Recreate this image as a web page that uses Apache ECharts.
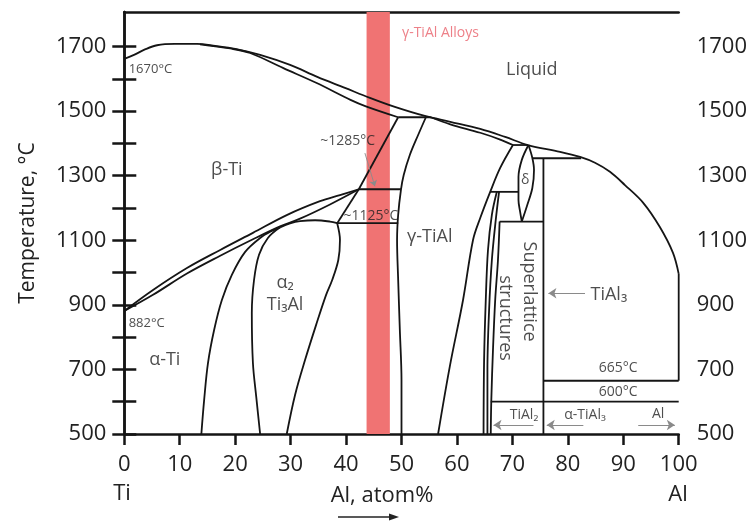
<!DOCTYPE html>
<html><head><meta charset="utf-8">
<script src="https://cdn.jsdelivr.net/npm/echarts@6/dist/echarts.min.js"></script>
<style>html,body{margin:0;padding:0;background:#fff}#c{width:755px;height:522px}</style>
</head><body><div id="c"></div>
<script>
// ---- axis values ----
const xLabelValues = [0,10,20,30,40,50,60,70,80,90,100];
const yTickValues = [500,600,700,800,900,1000,1100,1200,1300,1400,1500,1600,1700];
const yLabelValues = [500,700,900,1100,1300,1500,1700];
const alloyBand = [43.7,47.9];

// ---- phase boundaries [at% Al, °C] ----
const liquidus = [[0,1662],[1.75,1674],[3.73,1691],[5.9,1704],[9.1,1708],[13.1,1708],[16.4,1702],[20,1693],[24.5,1674],[29.9,1643],[34.8,1606],[39.8,1572],[44.3,1541],[48.8,1513],[54.2,1485],[58.8,1467],[64.2,1445],[68.7,1420],[72.8,1395],[78.6,1374],[82.2,1358],[84.9,1340],[87.6,1312],[90.3,1271],[93.6,1216],[96.6,1141],[98.97,1061],[100,996]];
const liquidusDrop = [[100,996],[100,665]];
const betaSolidus = [[13.65,1707],[19.1,1694],[22.7,1680],[28.7,1633],[34.7,1587],[40.8,1535],[43.7,1514],[49.4,1481]];
const peritectic1481 = [[49.4,1481],[55.3,1481]];
const gammaSolidus = [[55.3,1481],[58.8,1459],[64.2,1433],[67.8,1412],[70.1,1395]];
const deltaTop = [[70.1,1395],[72.8,1395]];
const gammaLeft = [[54.4,1481],[53.0,1426],[51.5,1364],[50.4,1302],[49.9,1256],[49.4,1179],[49.2,1101],[49.4,977],[49.7,822],[50.0,667],[50.0,500]];
const alphaPeritectic = [[49.4,1481],[42.3,1258]];
const line1258 = [[42.3,1258],[49.9,1258]];
const eutectoidDiag = [[42.3,1258],[38.4,1153]];
const line1153 = [[38.4,1153],[49.4,1153]];
const betaUpper = [[0,881],[5.18,946],[11.3,1014],[17.3,1070],[23.2,1123],[29.3,1178],[35.3,1221],[38.9,1240],[42.3,1258]];
const betaLower = [[0,881],[5.18,931],[11.3,997],[17.3,1052],[23.2,1103],[28.1,1143],[31.7,1167],[37.1,1211],[42.3,1258]];
const alphaLeft = [[13.9,500],[14.4,605],[15.1,720],[16.2,822],[17.6,915],[19.4,993],[21.8,1064],[24.5,1107],[26.6,1129],[28.1,1140]];
const alpha2Left = [[28.1,1140],[25.9,1107],[24.3,1055],[23.4,977],[23.0,875],[23.2,720],[23.8,615],[24.5,500]];
const alpha2Top = [[28.1,1140],[29.9,1152],[31.7,1159],[34.4,1162],[37.1,1158],[38.4,1153]];
const alpha2Right = [[38.4,1153],[38.9,1101],[38.6,1039],[37.5,977],[36.4,931],[34.6,838],[32.6,729],[30.8,621],[29.3,500]];
const gammaRight = [[70.1,1395],[67.8,1324],[66.0,1250],[64.2,1169],[62.9,1101],[61.1,915],[58.7,708],[56.6,500]];
const line1250 = [[66.0,1250],[71.1,1250]];
const deltaLeft = [[72.9,1395],[71.7,1349],[71.1,1296],[71.1,1225],[71.4,1188],[71.7,1158]];
const deltaRight = [[72.9,1395],[73.6,1355],[73.9,1318],[73.6,1262],[72.7,1210],[71.7,1158]];
const line1354 = [[73.6,1354],[82.4,1354]];
const tial3Line = [[75.6,1354],[75.6,500]];
const boxTop = [[67.7,1158],[75.6,1158]];
const superCurve1 = [[67.2,1250],[66.3,1179],[65.6,1070],[65.2,915],[64.9,729],[64.8,500]];
const superCurve2 = [[67.6,1250],[67.0,1163],[66.3,1039],[65.8,884],[65.5,698],[65.5,500]];
const superCurve3 = [[67.7,1158],[67.4,1039],[66.9,915],[66.5,760],[66.2,605],[66.1,500]];
const line665 = [[75.6,665],[100,665]];
const line600 = [[66.1,600],[100,600]];

const smoothLines = [liquidus,betaSolidus,gammaSolidus,gammaLeft,betaUpper,betaLower,alphaLeft,alpha2Left,alpha2Top,alpha2Right,gammaRight,deltaLeft,deltaRight,superCurve1,superCurve2,superCurve3];
const straightLines = [liquidusDrop,peritectic1481,deltaTop,alphaPeritectic,line1258,eutectoidDiag,line1153,line1250,line1354,tial3Line,boxTop,line665,line600];

// ---- annotations [text, at% Al, °C] ----
const labelsLarge = [['Liquid',73.5,1628],['β-Ti',18.5,1318],['α-Ti',7.3,729],['γ-TiAl',55.1,1111],['α₂',29.0,967],['Ti₃Al',29.0,900]];
const labelsSmall = [['~1285°C',40.3,1406],['~1125°C',44.5,1175],['665°C',89.1,704],['600°C',89.1,631],['TiAl₂',72.1,559],['α-TiAl₃',83.1,559],['Al',96.3,562],['δ',72.3,1287]];
const labelsLeftSmall = [['1670°C',0.7,1628],['882°C',0.7,843]];
const labelsLeftLarge = [['TiAl₃',84.0,931]];
const labelsRotated = [['Superlattice',73.0,941],['structures',68.7,859]];
const alloyLabel = [['γ-TiAl Alloys',50.0,1741]];
const arrows = [[[83.1,936],[76.5,936]],[[73.8,528],[66.6,528]],[[82.8,528],[76.2,528]],[[92.7,528],[99.3,528]]];
const pointer = [[43.4,1370],[45.2,1267]];

const FONT = "'Open Sans','Noto Sans',sans-serif";
const INK = '#151515';
const chart = echarts.init(document.getElementById('c'), null, {renderer:'canvas'});

function lineSeries(d, smooth){
  return {type:'line', data:d, symbol:'none', smooth: smooth ? 0.35 : false, animation:false, silent:true,
    lineStyle:{color:INK, width:1.8}, z:3};
}
function labelSeries(arr, lab){
  return {type:'scatter', symbolSize:1, itemStyle:{color:'rgba(0,0,0,0)'}, silent:true, animation:false, z:5,
    data: arr.map(a=>({value:[a[1],a[2]], name:a[0]})),
    label: Object.assign({show:true, formatter:p=>p.name, fontFamily:FONT, color:'#222'}, lab)};
}
function arrowSeries(list, size, width){
  return {type:'line', data:[], silent:true, animation:false, z:4, color:'#8a8a8a',
    markLine:{silent:true, symbol:['none','arrow'], symbolSize:size, label:{show:false}, animation:false,
      itemStyle:{color:'#8a8a8a'},
      lineStyle:{color:'#8a8a8a', width:width, type:'solid'},
      data: list.map(a=>[{coord:a[0]},{coord:a[1]}])}};
}

const series = [];
series.push({type:'line', data:[], silent:true, animation:false, z:1,
  markArea:{silent:true, itemStyle:{color:'#f07373'}, data:[[{xAxis:alloyBand[0]},{xAxis:alloyBand[1]}]]}});
smoothLines.forEach(d=>series.push(lineSeries(d,true)));
straightLines.forEach(d=>series.push(lineSeries(d,false)));
series.push(arrowSeries(arrows, 8, 1.2));
series.push(arrowSeries([pointer], 6, 0.9));
series.push(labelSeries(labelsLarge, {position:'inside', fontSize:18}));
series.push(labelSeries(labelsSmall, {position:'inside', fontSize:14}));
series.push(labelSeries(labelsLeftSmall, {position:'right', distance:0, fontSize:13}));
series.push(labelSeries(labelsLeftLarge, {position:'right', distance:0, fontSize:18}));
series.push(labelSeries(labelsRotated, {position:'inside', fontSize:18, rotate:-90}));
series.push(labelSeries(alloyLabel, {position:'right', distance:0, fontSize:14, color:'#e8606a'}));

const axisLineStyle = {color:INK, width:2.5};
const plain = v => String(v);
chart.setOption({
  animation:false,
  grid:{left:124.3, right:76.3, top:12, bottom:88, containLabel:false},
  xAxis:[
    {type:'value', min:0, max:100, interval:10, position:'bottom',
      axisLine:{show:true, lineStyle:axisLineStyle}, axisTick:{show:true, length:11, lineStyle:axisLineStyle},
      axisLabel:{fontSize:22, color:'#222', margin:20, fontFamily:FONT, formatter:plain, customValues:xLabelValues}, splitLine:{show:false}},
    {type:'value', min:0, max:100, position:'top',
      axisLine:{show:true, lineStyle:axisLineStyle}, axisTick:{show:false}, axisLabel:{show:false}, splitLine:{show:false}}
  ],
  yAxis:[
    {type:'value', min:500, max:1807, interval:100, position:'left',
      name:'Temperature, °C', nameLocation:'middle', nameGap:86,
      nameTextStyle:{fontSize:21, color:'#222', fontFamily:FONT},
      axisLine:{show:true, lineStyle:axisLineStyle},
      axisTick:{show:true, length:12, lineStyle:axisLineStyle, customValues:yTickValues},
      axisLabel:{fontSize:22, color:'#222', margin:18, fontFamily:FONT, formatter:plain, customValues:yLabelValues}, splitLine:{show:false}},
    {type:'value', min:500, max:1807, interval:100, position:'right',
      axisLine:{show:true, lineStyle:axisLineStyle},
      axisTick:{show:true, length:12, lineStyle:axisLineStyle, customValues:yTickValues},
      axisLabel:{fontSize:22, color:'#222', margin:18, fontFamily:FONT, formatter:plain, customValues:yLabelValues}, splitLine:{show:false}}
  ],
  graphic:[
    {type:'text', x:122, y:494, style:{text:'Ti', font:'22px '+FONT, fill:'#222', align:'center', verticalAlign:'middle', textAlign:'center', textVerticalAlign:'middle'}},
    {type:'text', x:678, y:495, style:{text:'Al', font:'22px '+FONT, fill:'#222', align:'center', verticalAlign:'middle', textAlign:'center', textVerticalAlign:'middle'}},
    {type:'text', x:382, y:496, style:{text:'Al, atom%', font:'22px '+FONT, fill:'#222', align:'center', verticalAlign:'middle', textAlign:'center', textVerticalAlign:'middle'}},
    {type:'line', shape:{x1:338, y1:517, x2:391, y2:517}, style:{stroke:'#222', lineWidth:1.4}},
    {type:'polygon', shape:{points:[[399,517],[389,513.5],[389,520.5]]}, style:{fill:'#222'}}
  ],
  series: series
});
</script></body></html>
